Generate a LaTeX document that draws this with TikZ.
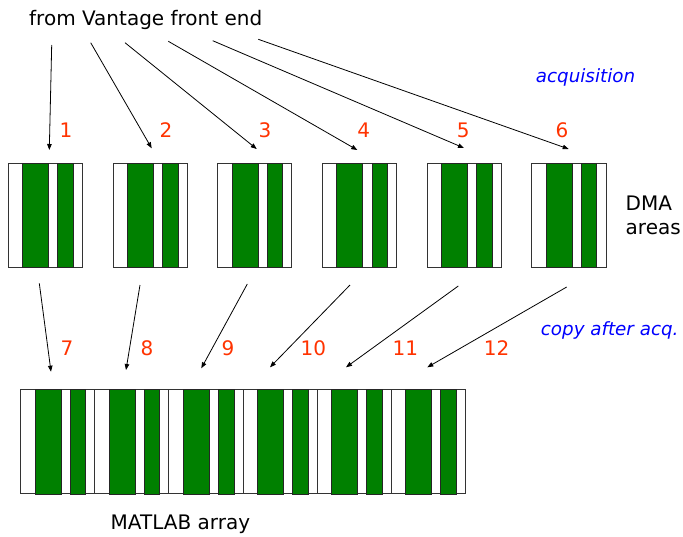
\documentclass[tikz,border=0pt]{standalone}
\usepackage{fontspec}
\setmainfont{DejaVu Sans}
\usetikzlibrary{arrows.meta}
\definecolor{dgreen}{RGB}{0,128,0}
\definecolor{lblred}{RGB}{255,51,0}
\definecolor{lblblue}{RGB}{0,0,255}
\tikzset{
  boxline/.style={draw=black!80, line width=0.9pt, fill=white},
  bar/.style={draw=black!85, line width=0.8pt, fill=dgreen},
  dmabox/.pic={
    \draw[boxline] (0,0) rectangle (74.2,104.4);
    \draw[bar] (14.3,0) rectangle (40.2,104.4);
    \draw[bar] (49.5,0) rectangle (65,104.4);
  },
  txt/.style={inner sep=0pt, font=\fontsize{20}{23.5}\selectfont, text=black},
  num/.style={inner sep=0pt, anchor=base, font=\fontsize{20}{23.5}\selectfont, text=lblred},
  ital/.style={inner sep=0pt, anchor=base, font=\fontsize{18.3}{22}\selectfont\itshape, text=lblblue},
  arr/.style={-{Triangle[length=6pt,width=4.5pt]}, line width=0.8pt, black, shorten >=0pt}
}
\begin{document}
\begin{tikzpicture}[x=1pt,y=-1pt]
\useasboundingbox[fill=white] (0,0) rectangle (683,536);

% texts
\node[txt, anchor=base west] (src) at (29,25.7) {from Vantage front end};
\node[ital] (acq) at (585.5,82.3) {acquisition};
\node[ital] (cpy) at (609.7,335.7) {copy after acq.};
\node[txt, anchor=north west, align=left] (dma) at (625.5,196.1) {DMA\\areas};
\node[txt, anchor=base west] (mat) at (110.5,529.3) {MATLAB array};

% DMA areas
\foreach \i in {0,...,5}{
  \pic at ({8.3+\i*104.7},163.3) {dmabox};
}
% MATLAB array
\foreach \i in {0,...,5}{
  \pic at ({20.7+\i*74.1},389.5) {dmabox};
}

% number labels
\node[num] (n1) at (66,137) {1};
\node[num] (n2) at (166,137) {2};
\node[num] (n3) at (265,137) {3};
\node[num] (n4) at (363.7,137) {4};
\node[num] (n5) at (463.3,137) {5};
\node[num] (n6) at (562,137) {6};
\node[num] (n7) at (67,355) {7};
\node[num] (n8) at (147,355) {8};
\node[num] (n9) at (228,355) {9};
\node[num] (n10) at (313.3,355) {10};
\node[num] (n11) at (405.3,355) {11};
\node[num] (n12) at (496.7,355) {12};

% arrow end points
\coordinate (s1) at (51.7,45);    \coordinate (e1) at (49.3,150);
\coordinate (s2) at (90.7,42.7);  \coordinate (e2) at (151.7,148.3);
\coordinate (s3) at (125,42.7);   \coordinate (e3) at (256.7,149);
\coordinate (s4) at (168.3,41.3); \coordinate (e4) at (357.3,150);
\coordinate (s5) at (212.7,40.7); \coordinate (e5) at (464,148);
\coordinate (s6) at (258.3,39.3); \coordinate (e6) at (568.7,149);
\coordinate (s7) at (39.3,283.3); \coordinate (e7) at (51,371.7);
\coordinate (s8) at (140,285);    \coordinate (e8) at (126,370);
\coordinate (s9) at (247.3,284);  \coordinate (e9) at (201.3,368.3);
\coordinate (s10) at (350,285);   \coordinate (e10) at (270,367.3);
\coordinate (s11) at (458.3,286); \coordinate (e11) at (346,367.3);
\coordinate (s12) at (566.7,287); \coordinate (e12) at (427.3,367.3);

\foreach \k in {1,...,12}{
  \draw[arr] (s\k) -- (e\k);
}
\end{tikzpicture}
\end{document}
